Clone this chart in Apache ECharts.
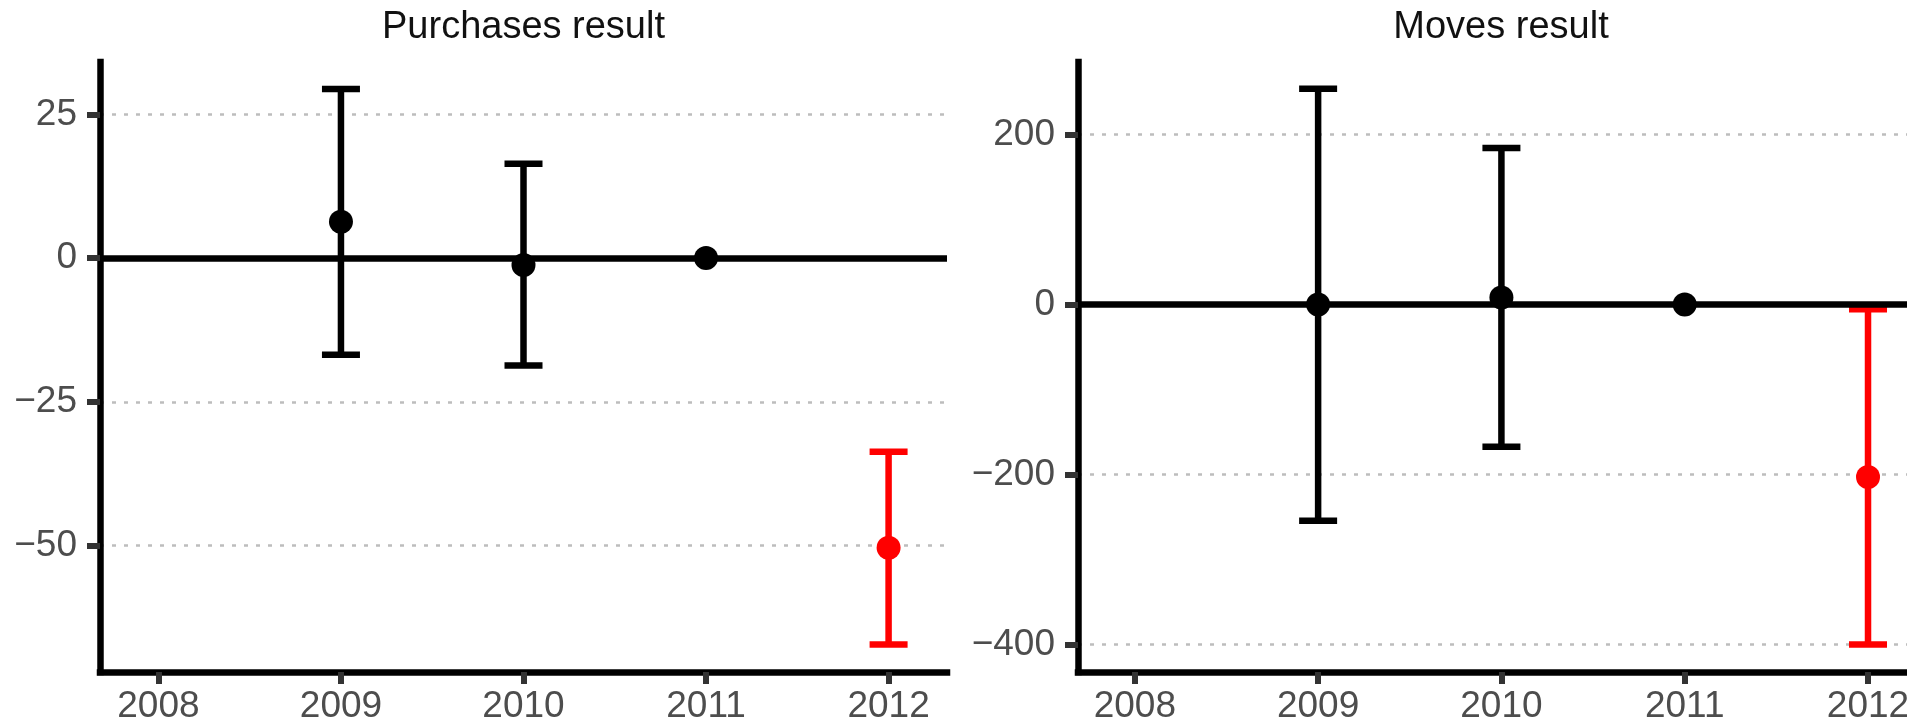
<!DOCTYPE html>
<html>
<head>
<meta charset="utf-8">
<title>Purchases and moves results</title>
<script src="https://cdn.jsdelivr.net/npm/echarts@6/dist/echarts.min.js"></script>
<style>
  html, body { margin: 0; padding: 0; background: #ffffff; overflow: hidden; }
  #chart { width: 1907px; height: 727px; }
</style>
</head>
<body>
<div id="chart"></div>
<script>
// Yearly estimates with their confidence intervals (2011 is the reference year)
const years = [2009, 2010, 2011, 2012];

const purchasesEstimate = [6.3, -1.2, 0, -50.4];
const purchasesLower = [-16.8, -18.7, null, -67.2];
const purchasesUpper = [29.4, 16.4, null, -33.7];

const movesEstimate = [0, 8.2, 0, -203];
const movesLower = [-254.4, -167.4, null, -400];
const movesUpper = [253.9, 184.4, null, -5.5];

// Tick labels
const yearTicks = [2008, 2009, 2010, 2011, 2012];
const purchasesTicks = [-50, -25, 0, 25];
const movesTicks = [-400, -200, 0, 200];

const FONT = '"Liberation Sans", Arial, sans-serif';
const BLACK = '#000000';
const RED = '#ff0000';
const STROKE = 6.5;

// An interval that excludes zero is drawn in red
function colourFor(lo, hi) {
  if (lo == null || hi == null) return BLACK;
  return (hi < 0 || lo > 0) ? RED : BLACK;
}

function minusFormat(v) {
  return v < 0 ? '\u2212' + Math.abs(v) : String(v);
}

function intervalData(lower, upper) {
  const out = [];
  years.forEach((y, i) => {
    if (lower[i] == null || upper[i] == null) return;
    out.push({ value: [y, lower[i], upper[i]], itemStyle: { color: colourFor(lower[i], upper[i]) } });
  });
  return out;
}

function pointData(est, lower, upper) {
  return years.map((y, i) => ({
    value: [y, est[i]],
    itemStyle: { color: colourFor(lower[i], upper[i]), opacity: 1 }
  }));
}

function renderErrorBar(params, api) {
  const x = api.value(0);
  const lo = api.value(1);
  const hi = api.value(2);
  const top = api.coord([x, hi]);
  const bot = api.coord([x, lo]);
  const half = 19;
  const style = { stroke: api.visual('color'), lineWidth: STROKE, fill: null };
  return {
    type: 'group',
    children: [
      { type: 'line', shape: { x1: top[0], y1: top[1], x2: bot[0], y2: bot[1] }, style: style },
      { type: 'line', shape: { x1: top[0] - half, y1: top[1], x2: top[0] + half, y2: top[1] }, style: style },
      { type: 'line', shape: { x1: bot[0] - half, y1: bot[1], x2: bot[0] + half, y2: bot[1] }, style: style }
    ]
  };
}

function xAxisFor(gridIndex, min, max) {
  return {
    type: 'value',
    gridIndex: gridIndex,
    min: min,
    max: max,
    axisLine: { show: true, onZero: false, lineStyle: { color: BLACK, width: STROKE, cap: 'square' } },
    axisTick: { show: true, customValues: yearTicks, length: 12, lineStyle: { color: '#333333', width: 6 } },
    axisLabel: {
      customValues: yearTicks,
      color: '#4d4d4d', fontSize: 37, fontFamily: FONT, lineHeight: 37, margin: 16,
      hideOverlap: false,
      formatter: v => String(v)
    },
    splitLine: { show: false }
  };
}

function yAxisFor(gridIndex, min, max, ticks) {
  return {
    type: 'value',
    gridIndex: gridIndex,
    min: min,
    max: max,
    axisLine: { show: true, onZero: false, lineStyle: { color: BLACK, width: STROKE, cap: 'square' } },
    axisTick: { show: true, customValues: ticks, length: 13, lineStyle: { color: '#333333', width: 6 } },
    axisLabel: {
      customValues: ticks,
      color: '#4d4d4d', fontSize: 37, fontFamily: FONT, lineHeight: 37, margin: 23,
      formatter: minusFormat
    },
    splitLine: { show: true, lineStyle: { color: '#bdbdbd', width: 2.5, type: [4, 8] } }
  };
}

function panelSeries(idx, est, lower, upper) {
  return [
    {
      // horizontal reference line at zero
      type: 'scatter',
      xAxisIndex: idx, yAxisIndex: idx,
      data: [],
      z: 3,
      silent: true,
      markLine: {
        silent: true,
        symbol: ['none', 'none'],
        label: { show: false },
        lineStyle: { color: BLACK, width: STROKE, type: 'solid' },
        emphasis: { disabled: true },
        data: [{ yAxis: 0 }]
      }
    },
    {
      type: 'custom',
      xAxisIndex: idx, yAxisIndex: idx,
      renderItem: renderErrorBar,
      data: intervalData(lower, upper),
      z: 4,
      silent: true
    },
    {
      type: 'scatter',
      xAxisIndex: idx, yAxisIndex: idx,
      symbol: 'circle',
      symbolSize: 24,
      itemStyle: { opacity: 1 },
      data: pointData(est, lower, upper),
      z: 5,
      silent: true
    }
  ];
}

const chart = echarts.init(document.getElementById('chart'), null, { renderer: 'canvas' });

chart.setOption({
  backgroundColor: '#ffffff',
  animation: false,
  title: [
    {
      text: 'Purchases result',
      left: 523.5, top: 28, padding: 0,
      textAlign: 'center', textVerticalAlign: 'middle',
      textStyle: { fontFamily: FONT, fontSize: 38, fontWeight: 'normal', color: '#111111' }
    },
    {
      text: 'Moves result',
      left: 1501, top: 28, padding: 0,
      textAlign: 'center', textVerticalAlign: 'middle',
      textStyle: { fontFamily: FONT, fontSize: 38, fontWeight: 'normal', color: '#111111' }
    }
  ],
  grid: [
    { left: 100, top: 62, width: 847, height: 610, outerBoundsMode: 'none', containLabel: false },
    { left: 1078, top: 62, width: 845, height: 610, outerBoundsMode: 'none', containLabel: false }
  ],
  xAxis: [xAxisFor(0, 2007.68, 2012.32), xAxisFor(1, 2007.69, 2012.3)],
  yAxis: [
    yAxisFor(0, -72.0, 34.1, purchasesTicks),
    yAxisFor(1, -432.5, 285.5, movesTicks)
  ],
  series: [].concat(
    panelSeries(0, purchasesEstimate, purchasesLower, purchasesUpper),
    panelSeries(1, movesEstimate, movesLower, movesUpper)
  )
});
</script>
</body>
</html>
